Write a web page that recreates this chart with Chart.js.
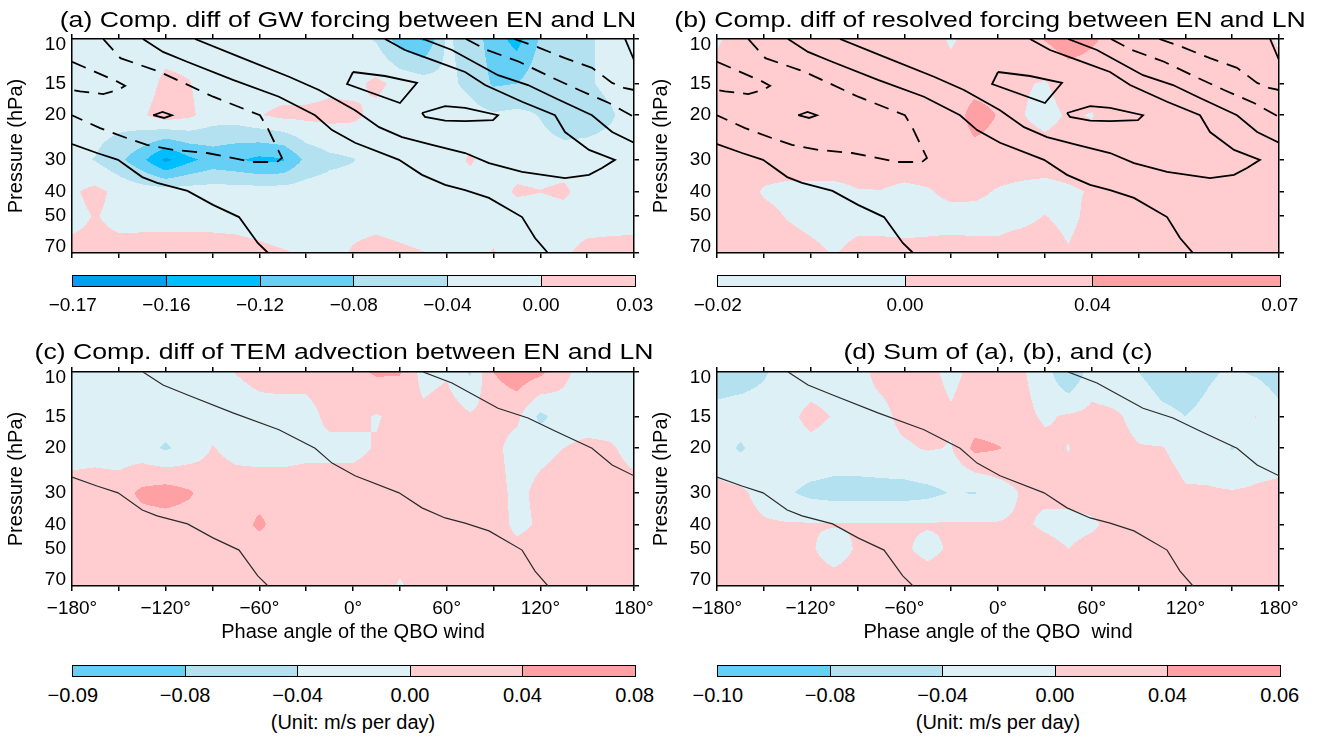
<!DOCTYPE html>
<html>
<head>
<meta charset="utf-8">
<script src="https://cdn.jsdelivr.net/npm/chart.js@4.4.1/dist/chart.umd.min.js"></script>
<style>
  body { margin: 0; background: #fff; font-family: "Liberation Sans", Arial, sans-serif; color: #000; }
  #wrap { position: relative; width: 1323px; height: 740px; overflow: hidden; }
  canvas { position: absolute; }
  .title { position: absolute; font-size: 22px; line-height: 22px; white-space: pre; transform: translateX(-50%) scaleX(1.21); }
  .cbar { position: absolute; display: flex; height: 12px; border: 1.5px solid #000; box-sizing: border-box; z-index: 2; }
  .cbar div { flex: 1; }
  .cbar div + div { border-left: 1.5px solid #000; }
  .clab { position: absolute; font-size: 19px; line-height: 19px; white-space: nowrap; transform: translateX(-50%); z-index: 2; }
  .unit { position: absolute; font-size: 20px; line-height: 20px; white-space: nowrap; transform: translateX(-50%); }
</style>
</head>
<body>
<div id="wrap">
  <canvas id="ca" width="660" height="320" style="left:0;top:0"></canvas>
  <canvas id="cb" width="660" height="320" style="left:645px;top:0"></canvas>
  <canvas id="cc" width="660" height="320" style="left:0;top:333px"></canvas>
  <canvas id="cd" width="660" height="320" style="left:645px;top:333px"></canvas>
  <div class="title" style="left:348px;top:9px">(a) Comp. diff of GW forcing between EN and LN</div>
  <div class="title" style="left:990px;top:9px">(b) Comp. diff of resolved forcing between EN and LN</div>
  <div class="title" style="left:344px;top:341px">(c) Comp. diff of TEM advection between EN and LN</div>
  <div class="title" style="left:998px;top:341px">(d) Sum of (a), (b), and (c)</div>
  <div class="unit" style="left:353px;top:712px">(Unit: m/s per day)</div>
  <div class="unit" style="left:998px;top:712px">(Unit: m/s per day)</div>
</div>
<script>
// grid of the composites: phase angle columns, pressure rows (top to bottom)
const phases = [-180, -165, -150, -135, -120, -105, -90, -75, -60, -45, -30, -15, 0, 15, 30, 45, 60, 75, 90, 105, 120, 135, 150, 165, 180];
const levels = [10, 15, 20, 30, 40, 50, 70];

const pressureTicks = [10, 15, 20, 30, 40, 50, 70];
const phaseTicks = [-180, -150, -120, -90, -60, -30, 0, 30, 60, 90, 120, 150, 180];

// (a) GW forcing difference
const gwForcing = [
  [-0.02,-0.02,-0.02,-0.02,-0.02,-0.02,-0.02,-0.02,-0.02,-0.02,-0.02,-0.02,-0.02,-0.045,-0.10,-0.125,-0.035,-0.055,-0.10,-0.135,-0.075,-0.06,-0.045,-0.03,-0.02],
  [-0.02,-0.02,-0.02,-0.02,0.01,0.002,-0.02,-0.02,-0.02,-0.02,-0.02,-0.01,-0.01,0.008,-0.01,-0.02,-0.03,-0.05,-0.085,-0.08,-0.055,-0.05,-0.045,-0.03,-0.02],
  [-0.02,-0.02,-0.02,-0.005,0.02,0.008,-0.02,-0.02,-0.002,0.01,0.01,0.012,0.008,-0.01,-0.02,-0.02,-0.02,-0.025,-0.035,-0.03,-0.042,-0.065,-0.06,-0.045,-0.02],
  [-0.03,-0.042,-0.07,-0.11,-0.17,-0.13,-0.105,-0.115,-0.13,-0.125,-0.07,-0.05,-0.042,-0.02,-0.02,-0.02,-0.02,0.005,-0.02,-0.02,-0.02,-0.02,-0.02,-0.02,-0.03],
  [-0.005,0.01,-0.01,-0.02,-0.02,-0.02,-0.02,-0.02,-0.02,-0.02,-0.02,-0.02,-0.02,-0.02,-0.02,-0.02,-0.02,-0.02,-0.02,0.006,0.001,0.008,-0.02,-0.02,-0.005],
  [-0.01,0.002,-0.01,-0.008,-0.008,-0.008,-0.008,-0.008,-0.01,-0.015,-0.02,-0.02,-0.01,-0.01,-0.015,-0.02,-0.02,-0.02,-0.02,-0.02,-0.02,-0.015,-0.015,-0.012,-0.01],
  [0.01,0.01,0.012,0.01,0.01,0.01,0.01,0.008,0.005,0.002,-0.002,-0.01,0.003,0.01,0.006,0.001,-0.01,-0.01,0.003,-0.02,-0.015,-0.005,0.01,0.01,0.01]
];
// (b) resolved forcing difference
const resolvedForcing = [
  [-0.006,0.02,0.02,0.02,0.02,0.02,0.02,0.02,0.02,0.02,-0.006,0.02,0.02,0.03,0.042,0.06,0.045,0.03,0.02,0.02,0.02,0.02,0.02,0.02,-0.006],
  [0.02,0.02,0.02,0.02,0.02,0.02,0.02,0.02,0.02,0.02,0.02,0.02,0.02,0.004,-0.003,0.017,0.02,0.02,0.02,0.02,0.02,0.02,0.02,0.02,0.02],
  [0.02,0.02,0.02,0.02,0.02,0.02,0.02,0.02,0.02,0.02,0.01,0.06,0.038,0.002,-0.012,0.004,-0.002,0.02,0.02,0.02,0.02,0.02,0.02,0.02,0.02],
  [0.02,0.02,0.02,0.02,0.02,0.02,0.02,0.02,0.02,0.02,0.02,0.02,0.02,0.02,0.02,0.02,0.02,0.02,0.02,0.02,0.02,0.02,0.02,0.02,0.02],
  [0.02,0.02,-0.004,-0.01,-0.01,-0.01,-0.002,-0.001,-0.008,-0.003,0.008,0.008,-0.003,-0.01,-0.015,-0.006,0.003,0.02,0.02,0.02,0.02,0.02,0.02,0.02,0.02],
  [0.02,0.02,0.01,-0.002,-0.01,-0.015,-0.012,-0.012,-0.012,-0.01,-0.01,-0.012,-0.012,-0.01,0.001,-0.01,0.01,0.02,0.02,0.02,0.02,0.02,0.02,0.02,0.02],
  [0.02,0.02,0.02,0.015,0.008,-0.002,0.01,0.01,0.008,0.008,0.01,0.01,0.01,0.02,0.02,0.003,0.02,0.02,0.02,0.02,0.02,0.02,0.02,0.02,0.02]
];
// (c) TEM advection difference
const temAdvection = [
  [-0.02,-0.02,-0.02,-0.02,-0.02,-0.02,-0.015,0.001,0.012,0.02,0.015,0.02,0.03,0.045,0.043,-0.015,-0.005,-0.045,0.04,0.065,0.05,0.01,-0.02,-0.02,-0.02],
  [-0.02,-0.02,-0.02,-0.02,-0.02,-0.02,-0.02,-0.02,-0.015,-0.02,-0.015,0.01,0.01,-0.003,0.01,0.01,0.02,0.005,0.01,0.008,-0.05,-0.02,-0.02,-0.02,-0.02],
  [-0.015,-0.015,-0.02,-0.025,-0.045,-0.025,0.002,-0.012,-0.015,-0.015,-0.01,-0.01,-0.01,0.003,0.02,0.02,0.02,0.02,0.01,-0.015,-0.01,0.0,0.01,0.005,-0.015],
  [0.015,0.02,0.02,0.05,0.06,0.045,0.02,0.02,0.02,0.02,0.02,0.02,0.02,0.02,0.02,0.02,0.02,0.02,0.015,-0.01,0.01,0.02,0.02,0.02,0.015],
  [0.02,0.02,0.02,0.02,0.02,0.02,0.02,0.015,0.05,0.015,0.02,0.02,0.02,0.02,0.02,0.02,0.02,0.02,0.02,-0.01,0.005,0.02,0.02,0.02,0.02],
  [0.02,0.02,0.02,0.02,0.02,0.02,0.02,0.02,0.015,0.02,0.02,0.02,0.02,0.02,0.02,0.02,0.02,0.02,0.02,0.01,0.02,0.02,0.02,0.02,0.02],
  [0.02,0.02,0.02,0.02,0.02,0.02,0.02,0.02,0.02,0.02,0.02,0.02,0.02,0.02,-0.005,0.02,0.02,0.02,0.02,0.02,0.02,0.02,0.02,0.02,0.02]
];
// (d) sum of (a), (b) and (c)
const sumForcing = [
  [-0.06,-0.06,-0.045,-0.02,-0.02,-0.02,-0.01,0.01,0.015,0.01,-0.01,0.01,0.015,0.005,-0.02,-0.082,-0.02,-0.025,-0.04,-0.06,-0.06,-0.045,-0.035,-0.045,-0.06],
  [-0.028,-0.02,-0.02,-0.01,0.01,-0.002,-0.01,-0.01,0.01,0.015,0.005,0.02,0.02,0.01,-0.005,0.005,0.01,0.005,-0.01,-0.03,-0.04,-0.03,-0.02,0.001,-0.028],
  [-0.02,-0.045,-0.02,-0.015,-0.01,-0.015,-0.015,-0.01,-0.005,0.003,-0.002,0.05,0.042,0.03,0.01,-0.001,0.01,0.01,0.002,0.002,-0.015,-0.02,-0.042,-0.02,-0.02],
  [0.01,0.008,-0.015,-0.035,-0.05,-0.055,-0.055,-0.055,-0.055,-0.05,-0.038,-0.042,-0.02,0.003,0.005,0.01,0.015,0.02,0.02,0.02,0.004,0.004,0.003,0.005,0.01],
  [0.02,0.015,0.005,0.003,0.003,0.003,0.003,0.003,0.003,0.003,0.003,0.003,0.002,0.005,-0.005,-0.01,-0.005,0.01,0.02,0.02,0.02,0.02,0.02,0.02,0.02],
  [0.02,0.02,0.02,0.02,0.005,-0.02,0.005,0.02,0.005,-0.01,0.005,0.02,0.02,0.02,0.01,0.0,0.01,0.02,0.02,0.02,0.02,0.02,0.02,0.02,0.02],
  [0.02,0.02,0.02,0.02,0.02,0.02,0.02,0.02,0.02,0.02,0.02,0.02,0.02,0.02,0.02,0.02,0.02,0.02,0.02,0.02,0.02,0.02,0.02,0.02,0.02]
];

// shading intervals and colour bars
const gwLevels = [-0.16, -0.12, -0.08, -0.04, 0];
const gwColors = ['#00a0f0', '#00beff', '#66cff5', '#b4e1f0', '#dcf0f5', '#ffcdd0'];
const gwBarLabels = ['−0.17', '−0.16', '−0.12', '−0.08', '−0.04', '0.00', '0.03'];
const resolvedLevels = [0, 0.04];
const resolvedColors = ['#dcf0f5', '#ffcdd0', '#ffa0a5'];
const resolvedBarLabels = ['−0.02', '0.00', '0.04', '0.07'];
const temLevels = [-0.08, -0.04, 0, 0.04];
const temColors = ['#66cff5', '#b4e1f0', '#dcf0f5', '#ffcdd0', '#ffa0a5'];
const temBarLabels = ['−0.09', '−0.08', '−0.04', '0.00', '0.04', '0.08'];
const sumLevels = [-0.08, -0.04, 0, 0.04];
const sumColors = ['#66cff5', '#b4e1f0', '#dcf0f5', '#ffcdd0', '#ffa0a5'];
const sumBarLabels = ['−0.10', '−0.08', '−0.04', '0.00', '0.04', '0.06'];

// QBO wind contours [phase, hPa]
const uLowWest = [[-180,26],[-164,28.2],[-150.5,30],[-135,35.1],[-125.5,37],[-106,39.8],[-89.7,45.2],[-73,50.5],[-61,63.9],[-54.4,70]];
const uMid = [[-134.5,10],[-121.7,11.25],[-106.3,12.3],[-76.9,14.5],[-47.4,16.9],[-24.3,20],[-13.4,22.9],[1.3,25.7],[29.5,30],[44.2,34.4],[59,37.7],[71.8,39.5],[87.1,42.4],[108.3,50.5],[116.6,61.1],[124.9,70]];
const uTongue = [[-101.2,10],[-72.4,11.8],[-41,14.1],[-21.8,15.9],[1.3,19.1],[16.7,22.3],[31.4,24.4],[50.6,26.2],[71.8,28.2],[87.1,30.9],[108.3,33.5],[135.8,35.4],[151.2,34.4],[159.5,32.3],[167.8,30],[151.2,27.4],[135.8,23.3],[129.4,20],[108.3,17.7],[84.6,15.2],[71.8,13.5],[50.6,12.1],[33.3,11.05],[20.5,10]];
const uEast = [[44.9,10],[63.4,11.05],[92.9,13.9],[112.1,15.2],[129.4,17.1],[153.1,20],[166,23.3],[180,25.7]];
const uCorner = [[174.3,10],[180,12.1]];
const uLoop1 = [[0,13.5],[-3.8,15.06],[30.1,17.9],[41,14.9],[20.5,14],[0,13.5]];
const uLoop2 = [[44.2,19.6],[59,18.4],[71.8,18.7],[92.9,20],[89.7,20.9],[71.8,21.1],[59,21],[46.1,20.3],[44.2,19.6]];
const uLoop3 = [[-128,20],[-122,19.4],[-116,20],[-121,20.5],[-128,20]];
const uNeg1 = [[-180,12.3],[-151.2,14.7],[-146,15.3],[-150.5,15.9],[-160,16.5],[-174.9,16.1],[-180,15.9]];
const uNeg2 = [[-160,10],[-149,11.9],[-123.6,13.5],[-89.6,16.9],[-59.6,20],[-55,22.3],[-45.5,29.5],[-48.7,30.6],[-64,30.6],[-93.5,28.2],[-115,27.4],[-132,26.2],[-145,24.6],[-162,22.5],[-180,20]];
const uNeg3 = [[72.4,10],[85.9,11.05],[106.4,12.3],[124.3,13.9],[144.8,15.9],[164,17.9],[180,20.3]];
const uNeg4 = [[103.3,10],[114.7,10.56],[135.8,11.9],[153.1,13],[166,14.9],[173.6,15.6],[180,15.9]];

const topLines = [
  {pts: uLowWest}, {pts: uMid}, {pts: uTongue}, {pts: uEast}, {pts: uCorner},
  {pts: uLoop1}, {pts: uLoop2}, {pts: uLoop3},
  {pts: uNeg1, dashed: true}, {pts: uNeg2, dashed: true}, {pts: uNeg3, dashed: true}, {pts: uNeg4, dashed: true}
];
const bottomLines = [{pts: uLowWest}, {pts: uMid}, {pts: uEast}];

Chart.defaults.font.family = '"Liberation Sans", Arial, sans-serif';
Chart.defaults.color = '#000';

function hexToRgb(h) {
  return [parseInt(h.slice(1, 3), 16), parseInt(h.slice(3, 5), 16), parseInt(h.slice(5, 7), 16)];
}

// shaded field: bilinear in (phase, log p), classified into the colour intervals
function makeFill(grid, thresholds, colors) {
  const rgb = colors.map(hexToRgb);
  return {
    id: 'contourFill',
    beforeDraw(chart) {
      const ctx = chart.ctx, a = chart.chartArea;
      const xs = chart.scales.x, ys = chart.scales.y;
      const w = Math.round(a.right - a.left), h = Math.round(a.bottom - a.top);
      const img = ctx.createImageData(w, h);
      const ci = [], cf = [], ri = [], rf = [];
      for (let i = 0; i < w; i++) {
        const v = xs.getValueForPixel(a.left + i + 0.5);
        const t = (v - phases[0]) / (phases[1] - phases[0]);
        const k = Math.min(Math.max(Math.floor(t), 0), phases.length - 2);
        ci.push(k);
        cf.push(Math.min(Math.max(t - k, 0), 1));
      }
      for (let j = 0; j < h; j++) {
        const p = ys.getValueForPixel(a.top + j + 0.5);
        let k = 0;
        while (k < levels.length - 2 && p > levels[k + 1]) k++;
        const t = (Math.log(p) - Math.log(levels[k])) / (Math.log(levels[k + 1]) - Math.log(levels[k]));
        ri.push(k);
        rf.push(Math.min(Math.max(t, 0), 1));
      }
      let o = 0;
      for (let j = 0; j < h; j++) {
        const r0 = grid[ri[j]], r1 = grid[ri[j] + 1], g = rf[j];
        for (let i = 0; i < w; i++) {
          const c = ci[i], f = cf[i];
          const top = r0[c] + (r0[c + 1] - r0[c]) * f;
          const bot = r1[c] + (r1[c + 1] - r1[c]) * f;
          const v = top + (bot - top) * g;
          let cls = 0;
          while (cls < thresholds.length && v >= thresholds[cls]) cls++;
          const col = rgb[cls];
          img.data[o] = col[0]; img.data[o + 1] = col[1]; img.data[o + 2] = col[2]; img.data[o + 3] = 255;
          o += 4;
        }
      }
      ctx.putImageData(img, a.left, a.top);
    }
  };
}

function phaseLabel(v) {
  return (v < 0 ? '−' + Math.abs(v) : String(v)) + '°';
}

const axisLine = {color: '#000', width: 1.5};
const tickMarks = {drawOnChartArea: false, drawTicks: true, tickLength: 5, color: '#000', lineWidth: 1.5};
const labelInset = Math.pow(7, 6 / 214);

function makePanel(id, grid, thresholds, colors, lines, xTitle) {
  const thin = !!xTitle;
  new Chart(document.getElementById(id), {
    type: 'scatter',
    data: {
      datasets: lines.map(l => ({
        data: l.pts.map(([x, y]) => ({x, y})),
        showLine: true,
        borderColor: thin ? '#2a2a2a' : '#000',
        borderWidth: thin ? 1.2 : 1.8,
        borderDash: l.dashed ? [15, 9] : [],
        pointRadius: 0,
        fill: false,
        tension: 0
      }))
    },
    options: {
      responsive: false,
      animation: false,
      events: [],
      layout: {padding: 0},
      plugins: {legend: {display: false}, tooltip: {enabled: false}},
      scales: {
        x: {
          type: 'linear', position: 'bottom', min: -180, max: 180,
          afterBuildTicks: s => { s.ticks = phaseTicks.map(v => ({value: v})); },
          afterFit: s => { s.height = 67; },
          ticks: {
            autoSkip: false, maxRotation: 0, padding: 6, font: {size: 19},
            callback: v => (thin && v % 60 === 0) ? phaseLabel(v) : ''
          },
          grid: tickMarks, border: axisLine,
          title: {display: thin, text: xTitle || '', font: {size: 20}, padding: {top: 0, bottom: 9}}
        },
        x2: {
          type: 'linear', position: 'top', min: -180, max: 180,
          afterBuildTicks: s => { s.ticks = phaseTicks.map(v => ({value: v})); },
          afterFit: s => { s.height = 39; },
          ticks: {display: false},
          grid: tickMarks, border: axisLine
        },
        y: {
          type: 'logarithmic', position: 'left', reverse: true, min: 10, max: 70,
          afterBuildTicks: s => {
            s.ticks = pressureTicks.map((v, i) => ({
              value: i === 0 ? v * labelInset : (i === pressureTicks.length - 1 ? v / labelInset : v)
            }));
          },
          afterFit: s => { s.width = 72; },
          ticks: {autoSkip: false, padding: 6, font: {size: 19}, callback: (v, i) => String(pressureTicks[i])},
          grid: {drawOnChartArea: false, drawTicks: false}, border: axisLine,
          title: {display: true, text: 'Pressure (hPa)', font: {size: 20}, padding: {top: 4, bottom: 0}}
        },
        y2: {
          type: 'logarithmic', position: 'right', reverse: true, min: 10, max: 70,
          afterBuildTicks: s => { s.ticks = pressureTicks.map(v => ({value: v})); },
          afterFit: s => { s.width = 26; },
          ticks: {display: false},
          grid: tickMarks, border: axisLine
        }
      }
    },
    plugins: [makeFill(grid, thresholds, colors)]
  });
}

function makeBar(left, top, width, colors, labels, labelTop, fontSize) {
  const wrap = document.getElementById('wrap');
  const bar = document.createElement('div');
  bar.className = 'cbar';
  bar.style.left = left + 'px';
  bar.style.top = top + 'px';
  bar.style.width = (width + 1.5) + 'px';
  colors.forEach(c => {
    const cell = document.createElement('div');
    cell.style.background = c;
    bar.appendChild(cell);
  });
  wrap.appendChild(bar);
  labels.forEach((t, i) => {
    const s = document.createElement('span');
    s.className = 'clab';
    s.textContent = t;
    s.style.left = (left + 0.75 + i * width / colors.length) + 'px';
    s.style.top = labelTop + 'px';
    s.style.fontSize = fontSize + 'px';
    wrap.appendChild(s);
  });
}

makePanel('ca', gwForcing, gwLevels, gwColors, topLines, null);
makePanel('cb', resolvedForcing, resolvedLevels, resolvedColors, topLines, null);
makePanel('cc', temAdvection, temLevels, temColors, bottomLines, 'Phase angle of the QBO wind');
makePanel('cd', sumForcing, sumLevels, sumColors, bottomLines, 'Phase angle of the QBO  wind');

makeBar(72, 275, 562, gwColors, gwBarLabels, 295, 19);
makeBar(717, 275, 562, resolvedColors, resolvedBarLabels, 295, 19);
makeBar(72, 665, 562, temColors, temBarLabels, 686, 20);
makeBar(717, 665, 562, sumColors, sumBarLabels, 686, 20);
</script>
</body>
</html>
